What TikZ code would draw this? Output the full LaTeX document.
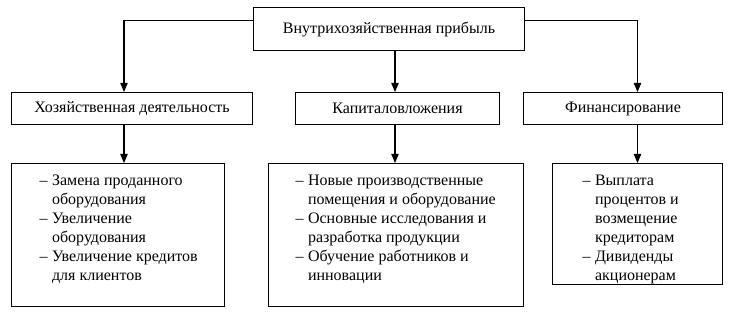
\documentclass[tikz,border=0pt]{standalone}
\usepackage{fontspec}
\setmainfont{Liberation Serif}
\usepackage{tikz}
\usetikzlibrary{arrows.meta, positioning, calc}

% list inside a box: width, left padding, rows
\newcommand{\listtext}[3]{\makebox[#1][l]{\hspace*{#2}\begin{tabular}[t]{@{}l@{\hspace{3.4pt}}l@{}}#3\end{tabular}}}

\begin{document}
\begin{tikzpicture}[x=0.75pt, y=-0.75pt,
        font=\fontsize{12}{14.25}\selectfont,
        box/.style={rectangle, draw=black, line width=0.8pt, inner sep=0pt, anchor=north west},
        listbox/.style={box, inner xsep=0pt, inner ysep=6.3pt, text height=10pt},
        line/.style={draw=black, line width=0.8pt, -{Triangle[length=6.75pt, width=5.5pt]}}]

        \useasboundingbox (0,0) rectangle (733,313);

        \node [box, minimum width=203.25pt, minimum height=32.25pt] (top) at (253,7) {Внутрихозяйственная прибыль};

        \node [box, minimum width=180.75pt, minimum height=24pt] (b1) at (11,92) {Хозяйственная деятельность};
        \node [box, minimum width=153pt, minimum height=24pt] (b2) at (295,92) {Капиталовложения};
        \node [box, minimum width=149.25pt, minimum height=24pt] (b3) at (523,92) {Финансирование};

        \node [listbox, text depth=84.6pt] (c1) at (11,163) {\listtext{159.75pt}{21pt}{%
        – & Замена проданного\\
          & оборудования\\
        – & Увеличение\\
          & оборудования\\
        – & Увеличение кредитов\\
          & для клиентов}};

        \node [listbox, text depth=84.6pt] (c2) at (268,163) {\listtext{191.25pt}{20.25pt}{%
        – & Новые производственные\\
          & помещения и оборудование\\
        – & Основные исследования и\\
          & разработка продукции\\
        – & Обучение работников и\\
          & инновации}};

        \node [listbox, text depth=68.1pt] (c3) at (552,163) {\listtext{127.5pt}{22.5pt}{%
        – & Выплата\\
          & процентов и\\
          & возмещение\\
          & кредиторам\\
        – & Дивиденды\\
          & акционерам}};

        \coordinate (kl) at (124,20.7);
        \coordinate (km) at (395,20.7);
        \coordinate (kr) at (637.5,20.7);

        \path [line] (top.west |- kl) -| (b1.north -| kl);
        \path [line] (top.south -| km) -- (b2.north -| km);
        \path [line] (top.east |- kr) -| (b3.north -| kr);

        \path [line] (b1.south -| kl) -- (c1.north -| kl);
        \path [line] (b2.south -| km) -- (c2.north -| km);
        \path [line] (b3.south -| kr) -- (c3.north -| kr);
    \end{tikzpicture}
\end{document}
